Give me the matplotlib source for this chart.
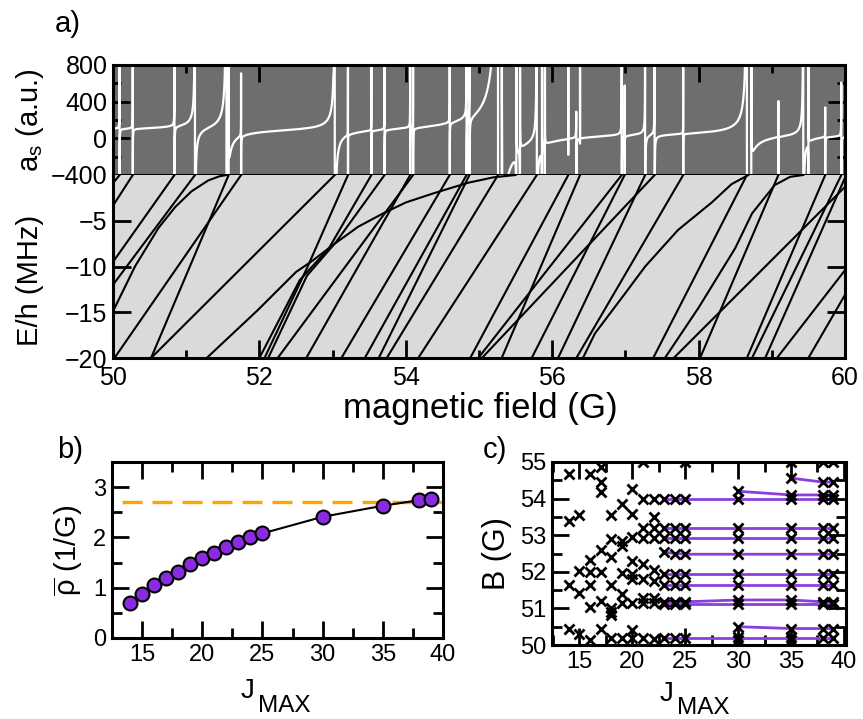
import numpy as np
import matplotlib
matplotlib.use("Agg")
import matplotlib.pyplot as plt
from matplotlib.ticker import MultipleLocator

plt.rcParams["font.family"] = ["Liberation Sans", "DejaVu Sans"]
plt.rcParams["mathtext.fontset"] = "custom"
plt.rcParams["mathtext.rm"] = "Liberation Sans"
plt.rcParams["mathtext.it"] = "Liberation Sans:italic"

# a) scattering length: resonance positions and widths (G)
res_pos = [50.09, 50.27, 50.84, 51.12, 51.55, 51.58, 51.75, 53.03, 53.21, 53.53,
           53.71, 54.06, 54.10, 54.60, 54.83, 54.87, 55.26, 55.31, 55.51, 55.56,
           55.79, 55.86, 55.90, 56.22, 56.33, 56.38, 56.95, 56.99, 57.27, 57.40,
           57.79, 58.66, 58.72, 59.09, 59.43, 59.50, 59.73, 59.95]
res_width = [0.003, 0.003, 0.004, 0.05, 0.15, 0.002, 0.01, 0.12, 0.002, 0.002,
             0.003, 0.003, 0.003, 0.002, 0.004, 0.004, 1.0, 0.005, 0.005, 0.005,
             -0.07, 0.005, 0.005, 0.005, 0.06, 0.005, 0.02, 0.005, 0.03, 0.03,
             0.003, 0.35, 0.005, 0.002, 0.2, 0.005, 0.01, 0.02]
a_bg = 65.0

# a) bound states below threshold: field (G) and energy (MHz) nodes
bound_B = [
    [50.0, 50.09], [49.9, 50.27], [50.0, 50.84], [50.0, 51.12],
    [50.0, 50.30, 50.62, 50.85, 51.07, 51.30, 51.45, 51.55],
    [50.02, 51.75], [50.52, 51.58], [50.52, 53.03],
    [51.28, 51.98, 52.50, 52.72, 53.03, 53.35, 53.69, 54.0, 54.38, 54.85, 55.2, 55.5],
    [52.07, 52.66, 53.21], [52.00, 52.55, 52.95, 53.53], [52.12, 52.65, 53.05, 53.71],
    [52.25, 54.10], [52.64, 54.06], [53.12, 54.60], [53.44, 54.83], [53.63, 54.87],
    [53.74, 55.26], [54.17, 55.79], [54.88, 56.22], [54.99, 56.95], [55.04, 57.40],
    [55.31, 56.38], [55.72, 56.99], [56.08, 57.27], [56.33, 57.79],
    [56.42, 56.585, 57.0, 57.27, 57.72, 58.18, 58.45, 58.68],
    [57.38, 58.66],
    [57.54, 58.0, 58.5, 58.73, 59.04, 59.25, 59.43],
    [57.66, 60.0], [58.02, 59.09], [58.66, 59.73], [58.73, 59.95], [58.91, 60.0],
    [59.07, 60.0], [59.50, 60.0],
]
bound_E = [
    [-0.9, 0], [-4.6, 0], [-9.5, 0], [-12.0, 0],
    [-14.9, -10.0, -5.8, -3.5, -1.8, -0.6, -0.15, 0],
    [-20, 0], [-20, 0], [-20, 0],
    [-20, -14.75, -10.6, -9.4, -7.5, -5.65, -4.2, -3.0, -2.0, -0.85, -0.25, 0],
    [-20, -10.0, 0], [-20, -11.5, -8.0, 0], [-20, -11.0, -7.3, 0],
    [-20, 0], [-20, 0], [-20, 0], [-20, 0], [-20, 0],
    [-20, 0], [-20, 0], [-20, 0], [-20, 0], [-20, 0],
    [-20, 0], [-20, 0], [-20, 0], [-20, 0],
    [-20, -17.3, -12.9, -10.0, -6.0, -3.0, -1.0, 0],
    [-20, 0],
    [-20, -14.5, -8.0, -4.2, -1.1, -0.2, 0],
    [-20, -1.3], [-20, 0], [-20, 0], [-20, 0], [-20, -0.3],
    [-20, -10.4], [-20, -13.1],
]

# b) mean resonance density vs J_MAX
jmax = [14, 15, 16, 17, 18, 19, 20, 21, 22, 23, 24, 25, 30, 35, 38, 39]
rho = [0.69, 0.87, 1.05, 1.19, 1.32, 1.47, 1.59, 1.69, 1.81, 1.90, 2.01, 2.08,
       2.41, 2.63, 2.74, 2.76]
rho_limit = 2.71

# c) resonance positions found for each J_MAX
c_jmax = [14, 15, 16, 17, 18, 19, 20, 21, 22, 23, 24, 25, 30, 35, 38, 39]
c_fields = [
    [54.66, 53.39, 51.63, 50.43],
    [53.54, 52.02, 51.41, 50.30],
    [54.68, 52.32, 52.0, 51.65, 51.03, 50.14],
    [54.86, 54.45, 54.18, 52.59, 52.0, 51.21, 50.45],
    [53.54, 52.9, 52.4, 51.65, 51.0, 50.9, 50.82, 50.18],
    [53.86, 52.83, 52.7, 51.98, 51.38, 51.14, 50.2],
    [54.27, 53.59, 52.95, 52.29, 51.95, 51.8, 51.16, 50.41, 50.18],
    [55.0, 54.0, 53.21, 52.92, 52.2, 51.8, 51.29, 51.16, 50.2],
    [54.0, 53.51, 53.21, 52.92, 52.04, 51.74, 51.29, 51.16, 50.16],
    [54.0, 53.21, 52.92, 52.54, 51.95, 51.65, 51.18, 51.12, 50.18],
    [54.0, 53.21, 52.92, 52.5, 51.95, 51.65, 51.18, 51.12, 50.18],
    [55.0, 54.0, 53.21, 52.92, 52.48, 51.95, 51.65, 51.18, 51.12, 50.18],
    [54.2, 54.0, 53.21, 52.92, 52.48, 51.95, 51.65, 51.23, 51.12, 50.5, 50.23, 50.14],
    [55.0, 54.56, 54.1, 54.0, 53.21, 52.92, 52.48, 51.95, 51.65, 51.23, 51.12, 50.45, 50.23, 50.14],
    [55.0, 54.45, 54.1, 54.0, 53.21, 52.92, 52.48, 51.95, 51.65, 51.18, 51.12, 50.45, 50.18],
    [55.0, 54.45, 54.1, 54.0, 53.21, 52.92, 52.48, 51.95, 51.65, 51.18, 51.12, 50.45, 50.18],
]
# converged resonances followed across J_MAX
track_J = [[23, 24, 25, 30, 35, 38, 39]] * 9 + [[30, 35, 38, 39]] * 2 + [[35, 38, 39]]
track_B = [
    [54.0, 54.0, 54.0, 54.0, 54.0, 54.0, 54.0],
    [53.21, 53.21, 53.21, 53.21, 53.21, 53.21, 53.21],
    [52.92, 52.92, 52.92, 52.92, 52.92, 52.92, 52.92],
    [52.54, 52.5, 52.48, 52.48, 52.48, 52.48, 52.48],
    [51.95, 51.95, 51.95, 51.95, 51.95, 51.95, 51.95],
    [51.65, 51.65, 51.65, 51.65, 51.65, 51.65, 51.65],
    [51.18, 51.18, 51.18, 51.23, 51.23, 51.18, 51.18],
    [51.12, 51.12, 51.12, 51.12, 51.12, 51.12, 51.12],
    [50.18, 50.18, 50.18, 50.18, 50.18, 50.18, 50.18],
    [50.5, 50.45, 50.45, 50.45],
    [54.2, 54.1, 54.1, 54.1],
    [54.56, 54.45, 54.45],
]

purple = "#8a3fdc"
W, H = 863, 719
fig = plt.figure(figsize=(W / 100, H / 100), dpi=100)


def box(l, t, r, b):
    return [l / W, 1 - b / H, (r - l) / W, (b - t) / H]


def style(ax, major, minor, size):
    for s in ax.spines.values():
        s.set_linewidth(2.2)
    ax.tick_params(which="both", direction="in", width=2, labelsize=size,
                   top=True, right=True, pad=4)
    ax.tick_params(which="major", length=major)
    ax.tick_params(which="minor", length=minor)


# a) upper: scattering length
ax1 = fig.add_axes(box(113, 65, 845, 175))
ax1.set_facecolor("#6e6e6e")
B = np.linspace(50, 60, 8001)
extra = [p + s * abs(w) / 30 for p, w in zip(res_pos, res_width) for s in (-1, 1)]
B = np.sort(np.concatenate([B, extra]))
a = np.full_like(B, a_bg)
for p, w in zip(res_pos, res_width):
    a *= 1 - w / (B - p)
a = np.clip(a, -3000, 3000)
ax1.plot(B, a, color="white", lw=1.6)
ax1.set_xlim(50, 60)
ax1.set_ylim(-400, 800)
ax1.set_yticks([-400, 0, 400, 800])
ax1.yaxis.set_minor_locator(MultipleLocator(200))
ax1.xaxis.set_major_locator(MultipleLocator(2))
ax1.xaxis.set_minor_locator(MultipleLocator(1))
style(ax1, 12, 6, 18)
ax1.tick_params(which="both", bottom=False, labelbottom=False)

# a) lower: bound-state energies
ax2 = fig.add_axes(box(113, 175, 845, 358))
ax2.set_facecolor("#dadada")
for bb, ee in zip(bound_B, bound_E):
    ax2.plot(bb, ee, color="black", lw=1.5)
ax2.set_xlim(50, 60)
ax2.set_ylim(-20, 0)
ax2.set_yticks([-20, -15, -10, -5])
ax2.xaxis.set_major_locator(MultipleLocator(2))
ax2.xaxis.set_minor_locator(MultipleLocator(1))
style(ax2, 13, 6, 18)
ax2.tick_params(which="both", top=False)
ax2.tick_params(axis="x", pad=6)
ax2.spines["top"].set_visible(False)

fig.text(30 / W, 1 - 120 / H, r"a$_\mathrm{s}$ (a.u.)", rotation=90, fontsize=21,
         ha="center", va="center")
fig.text(30 / W, 1 - 280 / H, "E/h (MHz)", rotation=90, fontsize=21,
         ha="center", va="center")
fig.text(480 / W, 1 - 418 / H, "magnetic field (G)", fontsize=25,
         ha="center", va="baseline")
fig.text(55 / W, 1 - 32 / H, "a)", fontsize=21, ha="left", va="baseline")

# b) mean density
ax3 = fig.add_axes(box(112, 462, 443, 638))
ax3.axhline(rho_limit, xmin=0.03, color="#ffa500", lw=2.4, dashes=(6, 3))
ax3.plot(jmax, rho, color="black", lw=1.5, marker="o", ms=10,
         mfc="#8a2be2", mec="black", mew=1.5)
ax3.set_xlim(12.5, 40)
ax3.set_ylim(0, 3.5)
ax3.xaxis.set_major_locator(MultipleLocator(5))
ax3.xaxis.set_minor_locator(MultipleLocator(2.5))
ax3.set_yticks([0, 1, 2, 3])
ax3.yaxis.set_minor_locator(MultipleLocator(0.5))
style(ax3, 12, 7, 17)
ax3.set_ylabel(r"$\overline{\mathrm{\rho}}$ (1/G)", fontsize=21, labelpad=6)
fig.text(57 / W, 1 - 458 / H, "b)", fontsize=21, ha="left", va="baseline")
fig.text(241 / W, 1 - 698 / H, "J", fontsize=20, ha="left", va="baseline")
fig.text(258 / W, 1 - 712 / H, "MAX", fontsize=17.5, ha="left", va="baseline")

# c) resonance positions
ax4 = fig.add_axes(box(552, 462, 846, 645))
for tj, tb in zip(track_J, track_B):
    ax4.plot(tj, tb, color=purple, lw=2)
for j, fields in zip(c_jmax, c_fields):
    ax4.plot([j] * len(fields), fields, ls="none", marker="x", ms=7.5, mew=2,
             color="black")
ax4.set_xlim(12.4, 40.2)
ax4.set_ylim(50, 55)
ax4.xaxis.set_major_locator(MultipleLocator(5))
ax4.xaxis.set_minor_locator(MultipleLocator(2.5))
ax4.yaxis.set_major_locator(MultipleLocator(1))
ax4.yaxis.set_minor_locator(MultipleLocator(0.5))
style(ax4, 12, 7, 17)
ax4.set_ylabel("B (G)", fontsize=22, labelpad=6)
fig.text(483 / W, 1 - 458 / H, "c)", fontsize=21, ha="left", va="baseline")
fig.text(660 / W, 1 - 701 / H, "J", fontsize=20, ha="left", va="baseline")
fig.text(677 / W, 1 - 714 / H, "MAX", fontsize=17.5, ha="left", va="baseline")

fig.savefig("out.png", dpi=100)
